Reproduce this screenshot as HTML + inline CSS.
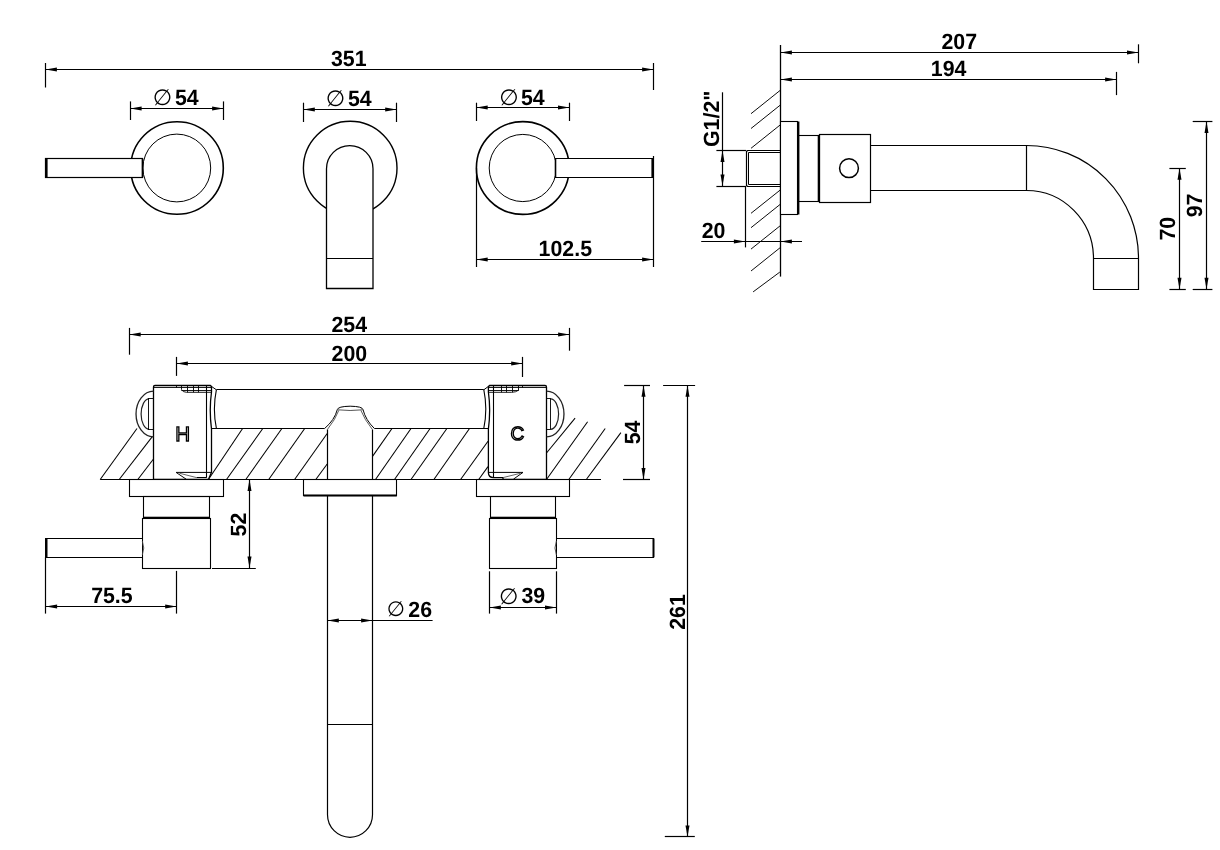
<!DOCTYPE html>
<html lang="en">
<head>
<meta charset="utf-8">
<title>Wall mounted basin mixer - technical drawing</title>
<style>
html,body{margin:0;padding:0;background:#fff;}
body{width:1220px;height:850px;overflow:hidden;}
svg{display:block;filter:grayscale(1);}
svg text{text-rendering:geometricPrecision;font-family:"Liberation Sans",sans-serif;font-weight:bold;fill:#000;}
svg text.dia{font-family:"DejaVu Sans","Liberation Sans",sans-serif;font-weight:normal;}
</style>
</head>
<body>
<svg width="1220" height="850" viewBox="0 0 1220 850">
<rect x="0" y="0" width="1220" height="850" fill="#fff"/>
<line x1="45.5" y1="69.5" x2="653.5" y2="69.5" stroke="#000" stroke-width="1.2"/>
<polygon points="45.5,69.5 56.9,67.5 56.9,71.5" fill="#000"/>
<polygon points="653.5,69.5 642.1,71.5 642.1,67.5" fill="#000"/>
<line x1="45.5" y1="63" x2="45.5" y2="87.5" stroke="#000" stroke-width="1.2"/>
<line x1="653.5" y1="63" x2="653.5" y2="90" stroke="#000" stroke-width="1.2"/>
<text transform="translate(348.8,66.4) scale(0.97,1)" text-anchor="middle" font-size="22">351</text>
<circle cx="177" cy="168" r="46.3" fill="none" stroke="#000" stroke-width="1.6"/>
<circle cx="176.8" cy="168" r="33.9" fill="none" stroke="#000" stroke-width="1"/>
<rect x="45.5" y="158.5" width="97" height="19" fill="#fff" stroke="#000" stroke-width="1.2"/>
<line x1="46.5" y1="158.6" x2="46.5" y2="177.2" stroke="#000" stroke-width="2.2"/>
<line x1="142.5" y1="158.6" x2="142.5" y2="177.2" stroke="#000" stroke-width="1.6"/>
<line x1="130.2" y1="108.5" x2="223.5" y2="108.5" stroke="#000" stroke-width="1.2"/>
<polygon points="130.2,108.5 141.6,106.5 141.6,110.5" fill="#000"/>
<polygon points="223.5,108.5 212.1,110.5 212.1,106.5" fill="#000"/>
<line x1="130.5" y1="101.4" x2="130.5" y2="120" stroke="#000" stroke-width="1.2"/>
<line x1="223.5" y1="101.4" x2="223.5" y2="120" stroke="#000" stroke-width="1.2"/>
<text class="dia" x="152.72" y="104.61" font-size="22.29">&#8709;</text>
<text transform="translate(186.8,104.6) scale(0.97,1)" text-anchor="middle" font-size="22">54</text>
<circle cx="350.2" cy="168" r="46.8" fill="none" stroke="#000" stroke-width="1.4"/>
<path d="M326.5,288.5 V168.7 A23.25,23.1 0 0 1 373,168.7 V288.5 Z" fill="#fff" stroke="#000" stroke-width="1.3"/>
<line x1="326.8" y1="258.5" x2="373" y2="258.5" stroke="#000" stroke-width="1.2"/>
<line x1="303.4" y1="109.5" x2="396.6" y2="109.5" stroke="#000" stroke-width="1.2"/>
<polygon points="303.4,109.5 314.8,107.5 314.8,111.5" fill="#000"/>
<polygon points="396.6,109.5 385.2,111.5 385.2,107.5" fill="#000"/>
<line x1="303.5" y1="102.7" x2="303.5" y2="122" stroke="#000" stroke-width="1.2"/>
<line x1="396.5" y1="102.7" x2="396.5" y2="122" stroke="#000" stroke-width="1.2"/>
<text class="dia" x="325.82" y="106.01" font-size="22.29">&#8709;</text>
<text transform="translate(359.8,106.2) scale(0.97,1)" text-anchor="middle" font-size="22">54</text>
<circle cx="522.8" cy="168" r="46.4" fill="none" stroke="#000" stroke-width="1.6"/>
<circle cx="522.8" cy="168" r="33.6" fill="none" stroke="#000" stroke-width="1"/>
<rect x="555.5" y="158.5" width="97" height="19" fill="#fff" stroke="#000" stroke-width="1"/>
<line x1="652.5" y1="158.5" x2="652.5" y2="177.7" stroke="#000" stroke-width="2.2"/>
<line x1="555.5" y1="158.5" x2="555.5" y2="177.7" stroke="#000" stroke-width="1.6"/>
<line x1="476.3" y1="107.5" x2="569.4" y2="107.5" stroke="#000" stroke-width="1.2"/>
<polygon points="476.3,107.5 487.7,105.5 487.7,109.5" fill="#000"/>
<polygon points="569.4,107.5 558,109.5 558,105.5" fill="#000"/>
<line x1="476.5" y1="102.7" x2="476.5" y2="121" stroke="#000" stroke-width="1.2"/>
<line x1="569.5" y1="102.7" x2="569.5" y2="121" stroke="#000" stroke-width="1.2"/>
<text class="dia" x="499.22" y="104.51" font-size="22.29">&#8709;</text>
<text transform="translate(532.8,104.7) scale(0.97,1)" text-anchor="middle" font-size="22">54</text>
<line x1="476.5" y1="168" x2="476.5" y2="267" stroke="#000" stroke-width="1.2"/>
<line x1="653.5" y1="156" x2="653.5" y2="267" stroke="#000" stroke-width="1.2"/>
<line x1="476.3" y1="259.5" x2="653.5" y2="259.5" stroke="#000" stroke-width="1.2"/>
<polygon points="476.3,259.5 487.7,257.5 487.7,261.5" fill="#000"/>
<polygon points="653.5,259.5 642.1,261.5 642.1,257.5" fill="#000"/>
<text transform="translate(565.3,256.1) scale(0.97,1)" text-anchor="middle" font-size="22">102.5</text>
<line x1="780.5" y1="45" x2="780.5" y2="276.6" stroke="#000" stroke-width="1.3"/>
<line x1="780.5" y1="90.1" x2="751" y2="113.7" stroke="#000" stroke-width="0.95"/>
<line x1="780.5" y1="104.9" x2="751" y2="128.5" stroke="#000" stroke-width="0.95"/>
<line x1="780.5" y1="124.7" x2="751" y2="148.3" stroke="#000" stroke-width="0.95"/>
<line x1="780.5" y1="189.8" x2="751" y2="213.3" stroke="#000" stroke-width="0.95"/>
<line x1="780.5" y1="204.1" x2="751" y2="227.7" stroke="#000" stroke-width="0.95"/>
<line x1="780.5" y1="225.5" x2="751" y2="249.1" stroke="#000" stroke-width="0.95"/>
<line x1="780.5" y1="247.4" x2="751" y2="271" stroke="#000" stroke-width="0.95"/>
<line x1="779.8" y1="272.1" x2="753.1" y2="291.9" stroke="#000" stroke-width="0.95"/>
<line x1="780.5" y1="52.5" x2="1138.4" y2="52.5" stroke="#000" stroke-width="1.2"/>
<polygon points="780.5,52.5 791.9,50.5 791.9,54.5" fill="#000"/>
<polygon points="1138.4,52.5 1127,54.5 1127,50.5" fill="#000"/>
<line x1="1138.5" y1="44.3" x2="1138.5" y2="63.3" stroke="#000" stroke-width="1.2"/>
<text transform="translate(959.2,49) scale(0.97,1)" text-anchor="middle" font-size="22">207</text>
<line x1="780.5" y1="79.5" x2="1116.5" y2="79.5" stroke="#000" stroke-width="1.2"/>
<polygon points="780.5,79.5 791.9,77.5 791.9,81.5" fill="#000"/>
<polygon points="1116.5,79.5 1105.1,81.5 1105.1,77.5" fill="#000"/>
<line x1="1116.5" y1="71.9" x2="1116.5" y2="95.1" stroke="#000" stroke-width="1.2"/>
<text transform="translate(948.6,75.7) scale(0.97,1)" text-anchor="middle" font-size="22">194</text>
<path d="M780.5,150.5 H747.5 L746.5,151.5 V185.5 L747.5,186.5 H780.5" fill="none" stroke="#000" stroke-width="1.2"/>
<path d="M780.5,152.5 H748.5 V184.5 H780.5" fill="none" stroke="#000" stroke-width="1.0"/>
<rect x="780.5" y="121.5" width="17" height="93" fill="#fff" stroke="#000" stroke-width="1.1"/>
<line x1="798.5" y1="121.5" x2="798.5" y2="214.5" stroke="#000" stroke-width="1.8"/>
<rect x="798.5" y="135.5" width="21" height="66" fill="none" stroke="#000" stroke-width="1.1"/>
<line x1="818.5" y1="135.5" x2="818.5" y2="201.5" stroke="#000" stroke-width="1.6"/>
<rect x="819.5" y="134.5" width="51" height="68" fill="none" stroke="#000" stroke-width="1.2"/>
<circle cx="849" cy="168.2" r="9.4" fill="none" stroke="#000" stroke-width="1.5"/>
<path d="M870.5,145.5 H1026.5 A112,112.9 0 0 1 1138.5,258.4 V289.5 H1093.5 V258.4 A67,67.9 0 0 0 1026.5,190.5 H870.5" fill="none" stroke="#000" stroke-width="1.2"/>
<line x1="1026.5" y1="145.5" x2="1026.5" y2="190.5" stroke="#000" stroke-width="1.2"/>
<line x1="1093.5" y1="258.5" x2="1138.5" y2="258.5" stroke="#000" stroke-width="1.2"/>
<line x1="722.5" y1="92.3" x2="722.5" y2="186" stroke="#000" stroke-width="1.2"/>
<polygon points="722.5,150.6 724.5,162 720.5,162" fill="#000"/>
<polygon points="722.5,186 720.5,174.6 724.5,174.6" fill="#000"/>
<line x1="716.4" y1="150.5" x2="746.2" y2="150.5" stroke="#000" stroke-width="1.2"/>
<line x1="716.4" y1="186.5" x2="746.2" y2="186.5" stroke="#000" stroke-width="1.2"/>
<text transform="translate(719,118.8) rotate(-90) scale(0.97,1)" text-anchor="middle" font-size="22">G1/2&quot;</text>
<line x1="701.2" y1="241.5" x2="802" y2="241.5" stroke="#000" stroke-width="1.2"/>
<polygon points="745.3,241.5 733.9,243.5 733.9,239.5" fill="#000"/>
<polygon points="780.5,241.5 791.9,239.5 791.9,243.5" fill="#000"/>
<line x1="745.5" y1="186" x2="745.5" y2="247.4" stroke="#000" stroke-width="1.2"/>
<text transform="translate(713.5,237.9) scale(0.97,1)" text-anchor="middle" font-size="22">20</text>
<line x1="1179.5" y1="168.3" x2="1179.5" y2="289.2" stroke="#000" stroke-width="1.2"/>
<polygon points="1179.5,168.3 1181.5,179.7 1177.5,179.7" fill="#000"/>
<polygon points="1179.5,289.2 1177.5,277.8 1181.5,277.8" fill="#000"/>
<line x1="1169.4" y1="168.5" x2="1185.8" y2="168.5" stroke="#000" stroke-width="1.2"/>
<line x1="1169.4" y1="289.5" x2="1185.8" y2="289.5" stroke="#000" stroke-width="1.2"/>
<text transform="translate(1175.4,228.7) rotate(-90) scale(0.97,1)" text-anchor="middle" font-size="22">70</text>
<line x1="1206.5" y1="121.5" x2="1206.5" y2="289.2" stroke="#000" stroke-width="1.2"/>
<polygon points="1206.5,121.5 1208.5,132.9 1204.5,132.9" fill="#000"/>
<polygon points="1206.5,289.2 1204.5,277.8 1208.5,277.8" fill="#000"/>
<line x1="1192.7" y1="121.5" x2="1212.4" y2="121.5" stroke="#000" stroke-width="1.2"/>
<line x1="1192.7" y1="289.5" x2="1212.4" y2="289.5" stroke="#000" stroke-width="1.2"/>
<text transform="translate(1202.4,205.5) rotate(-90) scale(0.97,1)" text-anchor="middle" font-size="22">97</text>
<line x1="129.3" y1="334.5" x2="569.5" y2="334.5" stroke="#000" stroke-width="1.2"/>
<polygon points="129.3,334.5 140.7,332.5 140.7,336.5" fill="#000"/>
<polygon points="569.5,334.5 558.1,336.5 558.1,332.5" fill="#000"/>
<line x1="129.5" y1="327.9" x2="129.5" y2="354.7" stroke="#000" stroke-width="1.2"/>
<line x1="569.5" y1="327.9" x2="569.5" y2="350.7" stroke="#000" stroke-width="1.2"/>
<text transform="translate(349.3,331.6) scale(0.97,1)" text-anchor="middle" font-size="22">254</text>
<line x1="176.5" y1="363.5" x2="522.6" y2="363.5" stroke="#000" stroke-width="1.2"/>
<polygon points="176.5,363.5 187.9,361.5 187.9,365.5" fill="#000"/>
<polygon points="522.6,363.5 511.2,365.5 511.2,361.5" fill="#000"/>
<line x1="176.5" y1="356.9" x2="176.5" y2="375.9" stroke="#000" stroke-width="1.2"/>
<line x1="522.5" y1="356.9" x2="522.5" y2="377" stroke="#000" stroke-width="1.2"/>
<text transform="translate(349.4,361) scale(0.97,1)" text-anchor="middle" font-size="22">200</text>
<line x1="100.2" y1="479.5" x2="137" y2="428.5" stroke="#000" stroke-width="1.05"/>
<line x1="119.2" y1="479.5" x2="152.3" y2="436.6" stroke="#000" stroke-width="1.05"/>
<line x1="137.8" y1="479.5" x2="153.5" y2="459" stroke="#000" stroke-width="1.05"/>
<line x1="208.4" y1="479.5" x2="242.6" y2="428.5" stroke="#000" stroke-width="1.05"/>
<line x1="226.5" y1="479.5" x2="262.8" y2="428.5" stroke="#000" stroke-width="1.05"/>
<line x1="245.8" y1="479.5" x2="281.9" y2="428.5" stroke="#000" stroke-width="1.05"/>
<line x1="268.7" y1="479.5" x2="304.7" y2="428.5" stroke="#000" stroke-width="1.05"/>
<line x1="294.6" y1="479.5" x2="327.2" y2="433.5" stroke="#000" stroke-width="1.05"/>
<line x1="315.8" y1="479.5" x2="327.2" y2="464" stroke="#000" stroke-width="1.05"/>
<line x1="372.5" y1="456.4" x2="392" y2="428.5" stroke="#000" stroke-width="1.05"/>
<line x1="375.5" y1="479.5" x2="411" y2="428.5" stroke="#000" stroke-width="1.05"/>
<line x1="394.5" y1="479.5" x2="430.1" y2="428.5" stroke="#000" stroke-width="1.05"/>
<line x1="411" y1="479.5" x2="446.9" y2="428.5" stroke="#000" stroke-width="1.05"/>
<line x1="433.9" y1="479.5" x2="469.5" y2="428.5" stroke="#000" stroke-width="1.05"/>
<line x1="460.6" y1="479.5" x2="488" y2="441.2" stroke="#000" stroke-width="1.05"/>
<line x1="478.7" y1="479.5" x2="488" y2="466.6" stroke="#000" stroke-width="1.05"/>
<line x1="546.5" y1="453" x2="575.1" y2="418.2" stroke="#000" stroke-width="1.05"/>
<line x1="546.5" y1="479.5" x2="587.6" y2="421.8" stroke="#000" stroke-width="1.05"/>
<line x1="568.8" y1="479.5" x2="605.2" y2="428.5" stroke="#000" stroke-width="1.05"/>
<line x1="586.3" y1="479.5" x2="620.9" y2="432.6" stroke="#000" stroke-width="1.05"/>
<line x1="100.2" y1="479.5" x2="601" y2="479.5" stroke="#000" stroke-width="1.1"/>
<line x1="216.4" y1="389.5" x2="483.8" y2="389.5" stroke="#000" stroke-width="1.2"/>
<path d="M211.6,428.5 H324.6" fill="none" stroke="#000" stroke-width="1.1"/>
<path d="M374.4,428.5 H488" fill="none" stroke="#000" stroke-width="1.1"/>
<path d="M216.4,389.6 Q212.4,409 216.4,428.4" fill="none" stroke="#000" stroke-width="1.1"/>
<path d="M483.8,389.6 Q487.8,409 483.8,428.4" fill="none" stroke="#000" stroke-width="1.1"/>
<path d="M327.5,479.5 V429.5 M372.5,479.5 V429.5" fill="none" stroke="#000" stroke-width="1.2"/>
<path d="M324.6,428.5 Q334.6,420 337.3,409.6 Q338,406.4 350.2,406.2 Q362.4,406.4 363,409.6 Q365.6,420 374.4,428.5" fill="none" stroke="#000" stroke-width="1.0"/>
<path d="M327.4,429.5 Q335.4,419.5 338.8,410.4 M372.4,429.5 Q364.4,419.5 360.9,410.4" fill="none" stroke="#333" stroke-width="0.8"/>
<path d="M337.6,409.8 Q350,411.2 362.8,409.8" fill="none" stroke="#444" stroke-width="0.9"/>
<path d="M153.5,479.5 V387 Q153.5,385.5 155,385.5 H210.3 L211.5,386.6 V392 Q209,410 211.5,429 V472.3 L208.4,479.5 Z" fill="#fff" stroke="#000" stroke-width="1.3"/>
<line x1="206.5" y1="385.5" x2="206.5" y2="477.4" stroke="#000" stroke-width="1.1"/>
<line x1="153.6" y1="387.5" x2="211.6" y2="387.5" stroke="#000" stroke-width="0.9"/>
<line x1="181.3" y1="390.5" x2="211.6" y2="390.5" stroke="#000" stroke-width="0.9"/>
<path d="M181.5,385.5 V389.4 Q182.6,392.3 186.5,392.3 H211.6" fill="none" stroke="#000" stroke-width="0.9"/>
<line x1="187.5" y1="385.5" x2="187.5" y2="392.3" stroke="#000" stroke-width="0.9"/>
<line x1="193.5" y1="385.5" x2="193.5" y2="392.3" stroke="#000" stroke-width="0.9"/>
<line x1="198.5" y1="385.5" x2="198.5" y2="392.3" stroke="#000" stroke-width="0.9"/>
<line x1="176.5" y1="385.5" x2="176.5" y2="387.6" stroke="#000" stroke-width="0.9"/>
<line x1="210.3" y1="385.6" x2="216.4" y2="389.8" stroke="#000" stroke-width="1.0"/>
<path d="M176.1,472.4 H211.5 M176.1,472.4 L186.2,479.2 M196.5,477.5 H206.8" fill="none" stroke="#000" stroke-width="1.0"/>
<path d="M179.3,473.2 L196.5,477.6" fill="none" stroke="#555" stroke-width="0.9"/>
<path d="M153.6,391.2 A17.6,22.8 0 0 0 153.6,436.8" fill="none" stroke="#222" stroke-width="1.3"/>
<path d="M149,398.9 A7.9,15.2 0 0 0 149,429.3" fill="none" stroke="#222" stroke-width="1.2"/>
<rect x="148.5" y="398.5" width="5" height="31" fill="none" stroke="#000" stroke-width="0.9"/>
<text transform="translate(182.6,440.7) scale(1,1)" text-anchor="middle" font-size="20.5" style="font-weight:normal;fill:#fff;stroke:#000;stroke-width:1.35">H</text>
<path d="M488.4,472.6 V429 Q490.9,410 488.4,392 V386.8 L489.6,385.5 H545 Q546.5,385.5 546.5,387 V479.5 H503 V477.6 H493.4 Q488.6,477.5 488.4,472.6 Z" fill="#fff" stroke="#000" stroke-width="1.3"/>
<line x1="493.5" y1="385.5" x2="493.5" y2="477.6" stroke="#000" stroke-width="1.1"/>
<line x1="488.2" y1="387.5" x2="546.5" y2="387.5" stroke="#000" stroke-width="0.9"/>
<line x1="488.2" y1="390.5" x2="518.8" y2="390.5" stroke="#000" stroke-width="0.9"/>
<path d="M488.2,392.3 H511.5 Q516,392.3 518.5,390.2 V385.5" fill="none" stroke="#000" stroke-width="0.9"/>
<line x1="501.5" y1="385.5" x2="501.5" y2="392.3" stroke="#000" stroke-width="0.9"/>
<line x1="506.5" y1="385.5" x2="506.5" y2="392.3" stroke="#000" stroke-width="0.9"/>
<line x1="512.5" y1="385.5" x2="512.5" y2="392.3" stroke="#000" stroke-width="0.9"/>
<line x1="522.5" y1="385.5" x2="522.5" y2="387.6" stroke="#000" stroke-width="0.9"/>
<line x1="489.5" y1="385.6" x2="483.8" y2="389.8" stroke="#000" stroke-width="1.0"/>
<path d="M488.4,472.4 H523 M523,472.4 L513.4,479.2" fill="none" stroke="#000" stroke-width="1.0"/>
<path d="M520.7,473.2 L503,477.6" fill="none" stroke="#555" stroke-width="0.9"/>
<path d="M546.5,391.2 A17.5,22.8 0 0 1 546.5,436.8" fill="none" stroke="#222" stroke-width="1.3"/>
<path d="M550.6,398.9 A8,15.2 0 0 1 550.6,429.3" fill="none" stroke="#222" stroke-width="1.2"/>
<rect x="546.5" y="398.5" width="4" height="31" fill="none" stroke="#000" stroke-width="0.9"/>
<text transform="translate(517.4,440.4) scale(1,1)" text-anchor="middle" font-size="19" style="font-weight:normal;fill:#fff;stroke:#000;stroke-width:1.35">C</text>
<rect x="129.5" y="479.5" width="94" height="17" fill="#fff" stroke="#000" stroke-width="1.1"/>
<rect x="143.5" y="496.5" width="66" height="21" fill="none" stroke="#000" stroke-width="1.1"/>
<line x1="143.5" y1="517.5" x2="209.6" y2="517.5" stroke="#000" stroke-width="1.7"/>
<rect x="142.5" y="518.5" width="68" height="50" fill="none" stroke="#000" stroke-width="1.1"/>
<rect x="45.5" y="538.5" width="97" height="19" fill="#fff" stroke="#000" stroke-width="1.0"/>
<line x1="46.5" y1="538.5" x2="46.5" y2="557.3" stroke="#000" stroke-width="2.0"/>
<path d="M142.3,541 Q145.2,548 142.3,555" fill="none" stroke="#444" stroke-width="0.9"/>
<rect x="303.5" y="479.5" width="93" height="16" fill="#fff" stroke="#000" stroke-width="1.1"/>
<line x1="303.5" y1="495.5" x2="396.8" y2="495.5" stroke="#000" stroke-width="1.8"/>
<path d="M327.5,495.5 V814.8 A22.5,22.5 0 0 0 372.5,814.8 V495.5" fill="none" stroke="#000" stroke-width="1.2"/>
<line x1="327.4" y1="724.5" x2="372.5" y2="724.5" stroke="#000" stroke-width="1.2"/>
<rect x="476.5" y="479.5" width="93" height="17" fill="#fff" stroke="#000" stroke-width="1.1"/>
<rect x="490.5" y="496.5" width="65" height="21" fill="none" stroke="#000" stroke-width="1.1"/>
<line x1="490.5" y1="517.5" x2="555.8" y2="517.5" stroke="#000" stroke-width="1.7"/>
<rect x="489.5" y="518.5" width="67" height="50" fill="none" stroke="#000" stroke-width="1.1"/>
<rect x="556.5" y="538.5" width="97" height="19" fill="#fff" stroke="#000" stroke-width="1.0"/>
<line x1="653.5" y1="538.5" x2="653.5" y2="557.3" stroke="#000" stroke-width="2.0"/>
<path d="M556.4,541 Q553.5,548 556.4,555" fill="none" stroke="#444" stroke-width="0.9"/>
<line x1="45.5" y1="557.3" x2="45.5" y2="613.6" stroke="#000" stroke-width="1.2"/>
<line x1="176.5" y1="570.9" x2="176.5" y2="613.6" stroke="#000" stroke-width="1.2"/>
<line x1="45.7" y1="606.5" x2="176.6" y2="606.5" stroke="#000" stroke-width="1.2"/>
<polygon points="45.7,606.5 57.1,604.5 57.1,608.5" fill="#000"/>
<polygon points="176.6,606.5 165.2,608.5 165.2,604.5" fill="#000"/>
<text transform="translate(111.9,603.2) scale(0.97,1)" text-anchor="middle" font-size="22">75.5</text>
<line x1="249.5" y1="479.5" x2="249.5" y2="568" stroke="#000" stroke-width="1.2"/>
<polygon points="249.5,479.5 251.5,490.9 247.5,490.9" fill="#000"/>
<polygon points="249.5,568 247.5,556.6 251.5,556.6" fill="#000"/>
<line x1="212" y1="568.5" x2="255.8" y2="568.5" stroke="#000" stroke-width="1.2"/>
<text transform="translate(246,524.6) rotate(-90) scale(0.97,1)" text-anchor="middle" font-size="22">52</text>
<line x1="327.4" y1="620.5" x2="432.6" y2="620.5" stroke="#000" stroke-width="1.2"/>
<polygon points="327.4,620.5 338.8,618.5 338.8,622.5" fill="#000"/>
<polygon points="372.5,620.5 361.1,622.5 361.1,618.5" fill="#000"/>
<text class="dia" x="386.63" y="615.9" font-size="20.86">&#8709;</text>
<text transform="translate(420.2,616.9) scale(0.97,1)" text-anchor="middle" font-size="22">26</text>
<line x1="489.5" y1="571.3" x2="489.5" y2="613.6" stroke="#000" stroke-width="1.2"/>
<line x1="556.5" y1="571.3" x2="556.5" y2="613.6" stroke="#000" stroke-width="1.2"/>
<line x1="489.5" y1="607.5" x2="556.4" y2="607.5" stroke="#000" stroke-width="1.2"/>
<polygon points="489.5,607.5 500.9,605.5 500.9,609.5" fill="#000"/>
<polygon points="556.4,607.5 545,609.5 545,605.5" fill="#000"/>
<text class="dia" x="499.02" y="603.81" font-size="22.29">&#8709;</text>
<text transform="translate(533.3,603.2) scale(0.97,1)" text-anchor="middle" font-size="22">39</text>
<line x1="643.5" y1="385.4" x2="643.5" y2="479.5" stroke="#000" stroke-width="1.2"/>
<polygon points="643.5,385.4 645.5,396.8 641.5,396.8" fill="#000"/>
<polygon points="643.5,479.5 641.5,468.1 645.5,468.1" fill="#000"/>
<line x1="624.1" y1="385.5" x2="650" y2="385.5" stroke="#000" stroke-width="1.2"/>
<line x1="623" y1="479.5" x2="650" y2="479.5" stroke="#000" stroke-width="1.2"/>
<text transform="translate(640,432.4) rotate(-90) scale(0.97,1)" text-anchor="middle" font-size="22">54</text>
<line x1="687.5" y1="385.4" x2="687.5" y2="836.8" stroke="#000" stroke-width="1.2"/>
<polygon points="687.5,385.4 689.5,396.8 685.5,396.8" fill="#000"/>
<polygon points="687.5,836.8 685.5,825.4 689.5,825.4" fill="#000"/>
<line x1="663.1" y1="385.5" x2="695.1" y2="385.5" stroke="#000" stroke-width="1.2"/>
<line x1="664.8" y1="836.5" x2="694.8" y2="836.5" stroke="#000" stroke-width="1.2"/>
<text transform="translate(684.8,612) rotate(-90) scale(0.97,1)" text-anchor="middle" font-size="22">261</text>
</svg>
</body>
</html>
